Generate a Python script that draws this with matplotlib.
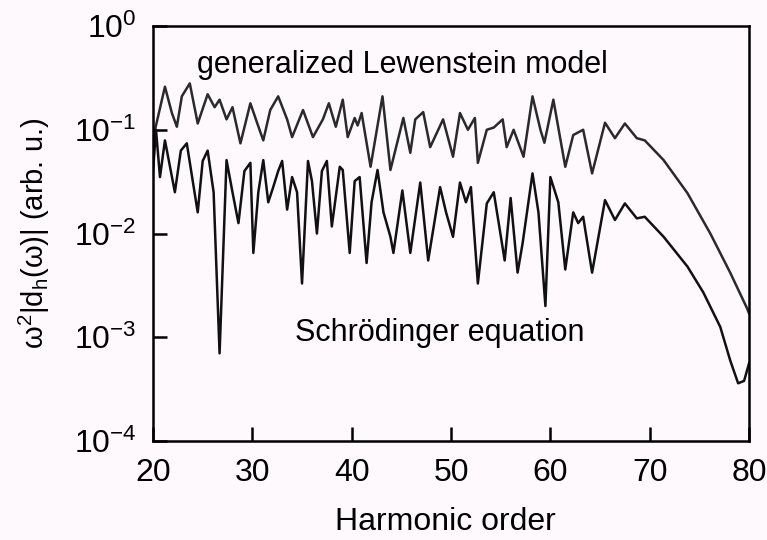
import matplotlib
matplotlib.use('Agg')
import matplotlib.pyplot as plt
import numpy as np

plt.rcParams['font.family'] = ['Liberation Sans', 'DejaVu Sans']
plt.rcParams['mathtext.fontset'] = 'custom'
plt.rcParams['mathtext.rm'] = 'Liberation Sans'
plt.rcParams['mathtext.it'] = 'Liberation Sans:italic'
plt.rcParams['axes.unicode_minus'] = False

# generalized Lewenstein model (upper curve)
lew_order = [20.0, 20.2, 21.2, 21.9, 22.4, 22.9, 23.7, 24.5, 25.5, 26.2,
             26.7, 27.4, 28.0, 28.8, 29.8, 30.5, 31.1, 31.8, 32.6, 33.5,
             34.0, 35.1, 36.1, 37.1, 37.7, 38.4, 39.1, 39.6, 40.3, 40.6,
             41.0, 41.9, 43.1, 43.9, 45.2, 45.9, 46.4, 47.2, 47.9, 49.2,
             50.2, 50.9, 51.7, 52.4, 52.7, 53.6, 54.3, 55.2, 55.6, 56.3,
             57.3, 58.2, 59.0, 59.4, 60.3, 61.5, 62.3, 63.3, 64.2, 65.5,
             66.5, 67.5, 68.7, 69.5, 71.4, 73.8, 76.1, 78.1, 79.8, 80.0]
lew_amp = [0.07, 0.10, 0.26, 0.145, 0.107, 0.21, 0.28, 0.115, 0.22, 0.165,
           0.195, 0.126, 0.165, 0.074, 0.18, 0.115, 0.079, 0.155, 0.21, 0.126,
           0.085, 0.155, 0.085, 0.126, 0.18, 0.107, 0.195, 0.085, 0.13, 0.11,
           0.145, 0.044, 0.21, 0.041, 0.13, 0.06, 0.126, 0.148, 0.068, 0.126,
           0.055, 0.145, 0.10, 0.13, 0.048, 0.10, 0.105, 0.126, 0.068, 0.10,
           0.055, 0.21, 0.10, 0.075, 0.195, 0.044, 0.089, 0.10, 0.038, 0.117,
           0.083, 0.115, 0.083, 0.079, 0.051, 0.0245, 0.010, 0.0042, 0.0019, 0.0017]

# Schroedinger equation (lower curve)
tdse_order = [20.0, 20.3, 20.7, 21.2, 21.6, 22.2, 22.8, 23.4, 24.0, 24.5,
              25.0, 25.5, 26.1, 26.7, 27.4, 28.0, 28.6, 29.2, 29.8, 30.1,
              30.6, 31.1, 31.6, 32.1, 32.6, 33.0, 33.5, 34.0, 34.5, 35.0,
              35.6, 36.0, 36.5, 37.0, 37.5, 38.0, 38.8, 39.1, 39.8, 40.3,
              40.8, 41.5, 42.0, 42.6, 43.2, 43.9, 44.2, 45.1, 45.9, 46.9,
              47.7, 48.9, 49.5, 50.2, 50.9, 51.5, 52.0, 52.7, 53.6, 54.3,
              54.8, 55.4, 56.0, 56.7, 57.2, 58.2, 58.8, 59.5, 60.0, 60.8,
              61.5, 62.3, 62.8, 63.3, 64.2, 65.5, 66.5, 67.5, 68.7, 69.5,
              71.4, 73.8, 75.4, 77.1, 78.1, 78.9, 79.5, 80.0]
tdse_amp = [0.040, 0.10, 0.035, 0.079, 0.050, 0.025, 0.063, 0.074, 0.032, 0.016,
            0.050, 0.063, 0.025, 0.0007, 0.051, 0.025, 0.0126, 0.040, 0.048, 0.0065,
            0.025, 0.051, 0.020, 0.028, 0.040, 0.050, 0.017, 0.035, 0.025, 0.0033,
            0.050, 0.032, 0.010, 0.040, 0.050, 0.0117, 0.044, 0.041, 0.0065, 0.032,
            0.035, 0.0052, 0.020, 0.041, 0.016, 0.0093, 0.0065, 0.026, 0.0065, 0.031,
            0.0055, 0.028, 0.016, 0.0093, 0.031, 0.020, 0.028, 0.0033, 0.0195, 0.025,
            0.0126, 0.0055, 0.022, 0.0042, 0.008, 0.038, 0.016, 0.002, 0.035, 0.020,
            0.0045, 0.016, 0.0126, 0.0145, 0.0042, 0.021, 0.0135, 0.0195, 0.014, 0.0145,
            0.0093, 0.0048, 0.0027, 0.00126, 0.0006, 0.00036, 0.00038, 0.00056]

x_ticks = [20, 30, 40, 50, 60, 70, 80]

fig = plt.figure(figsize=(7.67, 5.40), dpi=100, facecolor='#fdf9fd')
ax = fig.add_axes([0.1995, 0.1833, 0.7771, 0.7685])
ax.set_facecolor('#fdf9fd')

ax.plot(lew_order, lew_amp, color='#2a2a2a', lw=1.8)
ax.plot(tdse_order, tdse_amp, color='#111111', lw=1.8)

ax.set_yscale('log')
ax.set_xlim(20, 80)
ax.set_ylim(1e-4, 1)
ax.set_xticks(x_ticks)
ax.set_yticks([1e-4, 1e-3, 1e-2, 1e-1, 1])
ax.minorticks_off()
ax.tick_params(direction='in', length=10, width=1.8, labelsize=23, pad=12)

for s in ax.spines.values():
    s.set_linewidth(1.8)

ax.text(24.4, 0.42, 'generalized Lewenstein model', fontsize=22, va='center', ha='left')
ax.text(34.3, 0.0011, 'Schrödinger equation', fontsize=22, va='center', ha='left')

ax.set_xlabel('Harmonic order', fontsize=23)
ax.xaxis.set_label_coords(0.49, -0.16)
ax.set_ylabel('ω$^2$|d$_\\mathrm{h}$(ω)| (arb. u.)', fontsize=21)
ax.yaxis.set_label_coords(-0.17, 0.5)

fig.savefig('out.png', dpi=100, facecolor=fig.get_facecolor())
